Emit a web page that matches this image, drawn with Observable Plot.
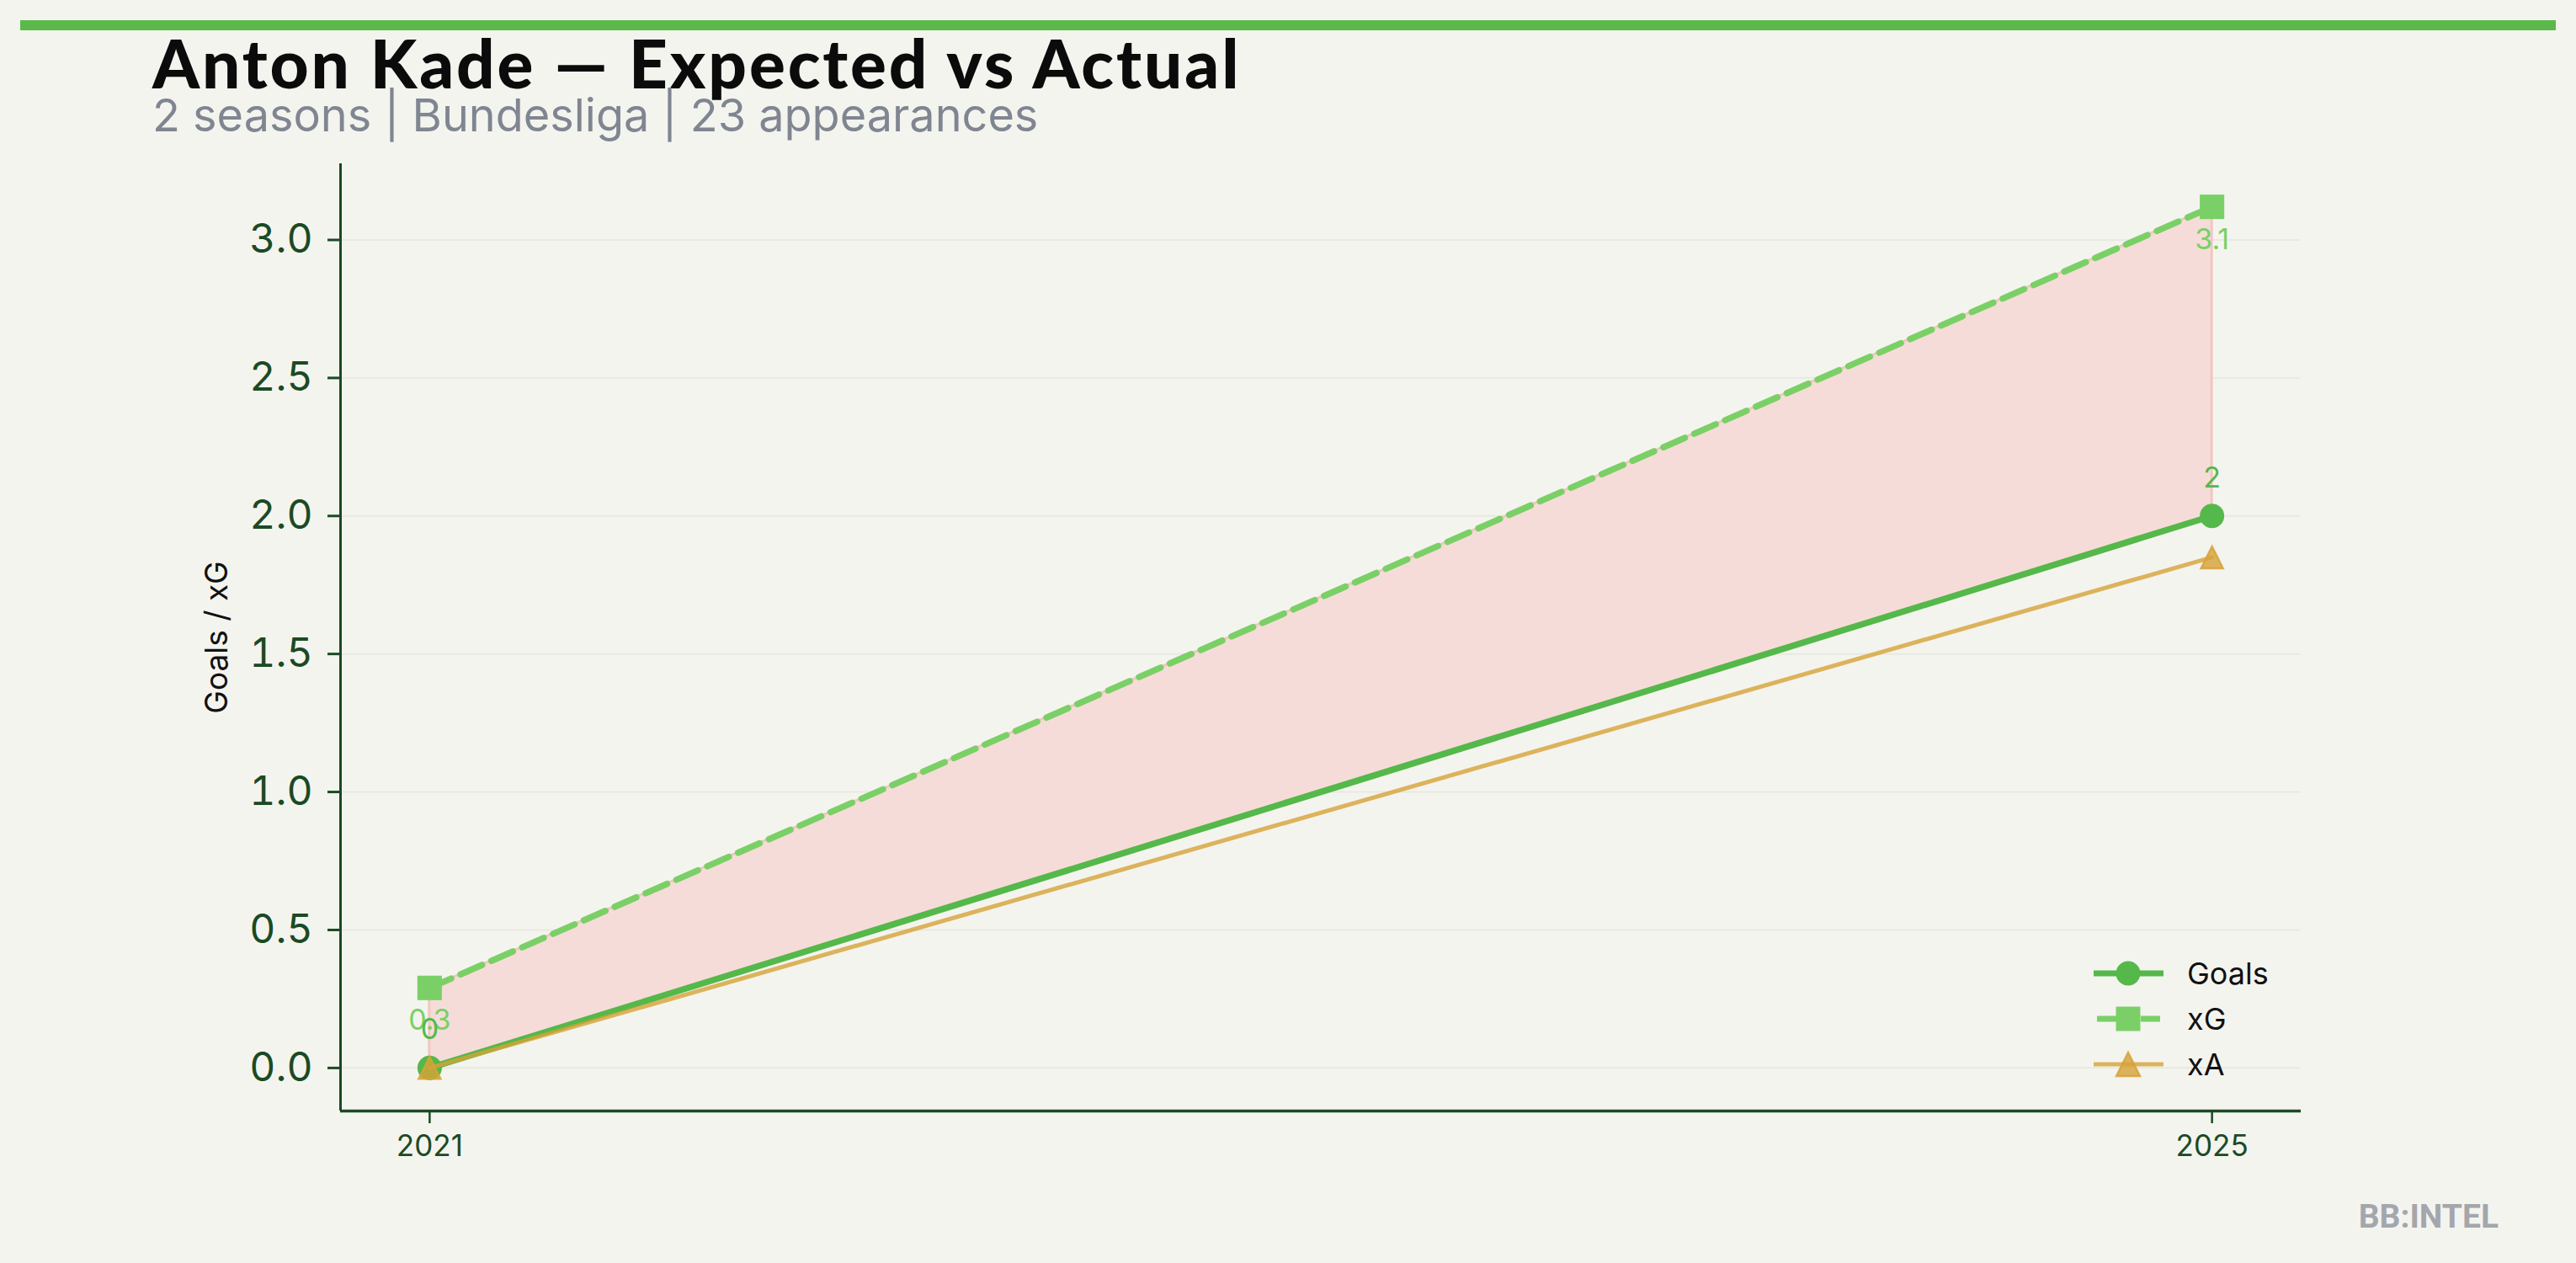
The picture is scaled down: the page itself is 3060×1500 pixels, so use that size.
<!DOCTYPE html>
<html>
<head>
<meta charset="utf-8">
<script src="https://cdn.jsdelivr.net/npm/d3@7"></script>
<script src="https://cdn.jsdelivr.net/npm/@observablehq/plot@0.6"></script>
<style>
  html, body { margin: 0; padding: 0; background: #f4f4ef; }
  #page { position: relative; width: 3060px; height: 1500px; background: #f4f4ef; overflow: hidden; font-family: Inter, "Noto Sans", sans-serif; }
  #topbar { position: absolute; left: 24px; top: 24px; width: 3012px; height: 12px; background: #5ab94a; }
  .base { position: absolute; white-space: nowrap; line-height: 0.9; }
  #title { left: 181px; font-family: Lato, Inter, sans-serif; font-weight: 900; font-size: 80px; letter-spacing: 2.9px; color: #0b0b0b; }
  #subtitle { left: 181px; font-size: 54px; color: #7f8691; font-family: Inter, sans-serif; }
  #chart { position: absolute; left: 0; top: 0; }
  #legend { position: absolute; left: 2487px; top: 1129px; }
  .lrow { display: flex; align-items: center; height: 54px; }
  .lrow span { font-family: Inter, sans-serif; font-size: 36px; color: #111; margin-left: 27px; }
  #mark { position: absolute; right: 92px; font-family: Roboto, sans-serif; font-weight: 700; font-size: 39px; color: #a3a7ad; line-height: 1; }
</style>
</head>
<body>
<div id="page">
  <div id="topbar"></div>
  <div id="chart"></div>
  <div id="title" class="base">Anton Kade — Expected vs Actual</div>
  <div id="subtitle" class="base">2 seasons | Bundesliga | 23 appearances</div>
  <div id="legend"></div>
  <div id="mark">BB:INTEL</div>
</div>
<script>
// ---- data ----
const seasons = [2021, 2025];
const goals = [0, 2];
const xg = [0.29, 3.12];
const xa = [0, 1.85];
const yTicks = [0, 0.5, 1, 1.5, 2, 2.5, 3];
const xTicks = [2021, 2025];
const seriesNames = ["Goals", "xG", "xA"];

const data = seasons.map((s, i) => ({season: s, goals: goals[i], xg: xg[i], xa: xa[i]}));

// colours
const cGoals = "#55b84a", cXg = "#7ad066", cXa = "#d6a337";
const axisColor = "#1b4a24";

// matplotlib-like "^" triangle (width == height)
const tri = {
  draw(ctx, size) {
    const h = Math.sqrt(size / Math.PI);
    ctx.moveTo(0, -h);
    ctx.lineTo(h, h);
    ctx.lineTo(-h, h);
    ctx.closePath();
  }
};

const x0 = 2020.8, x1 = 2025.2, y0 = -0.156, y1 = 3.276;

const chart = Plot.plot({
  width: 3060,
  height: 1500,
  marginLeft: 404,
  marginRight: 327,
  marginTop: 194,
  marginBottom: 181,
  style: {background: "transparent", fontFamily: "Inter, sans-serif", overflow: "visible"},
  x: {domain: [x0, x1], label: null},
  y: {domain: [y0, y1], label: null},
  marks: [
    Plot.ruleY(yTicks, {stroke: "#e9e9e2", strokeWidth: 2}),
    Plot.areaY(data, {x: "season", y1: "goals", y2: "xg", fill: "#f6dcd8", stroke: "#f1c7c1", strokeWidth: 3}),
    Plot.line(data, {x: "season", y: "goals", stroke: cGoals, strokeWidth: 7.5}),
    Plot.dot(data, {x: "season", y: "goals", r: 14.5, fill: cGoals, symbol: "circle"}),
    Plot.line(data, {x: "season", y: "xg", stroke: cXg, strokeWidth: 7.5, strokeDasharray: "28,12"}),
    Plot.dot(data, {x: "season", y: "xg", r: 16.4, fill: cXg, symbol: "square"}),
    Plot.line(data, {x: "season", y: "xa", stroke: cXa, strokeOpacity: 0.8, strokeWidth: 5}),
    Plot.dot(data, {x: "season", y: "xa", r: 13, symbol: tri, fill: cXa, fillOpacity: 0.8, stroke: cXa, strokeOpacity: 0.85, strokeWidth: 2.5}),
    Plot.text(data, {x: "season", y: "xg", text: d => d3.format(".1f")(d.xg), fill: cXg, fontSize: 34, lineAnchor: "bottom", dy: 50}),
    Plot.text(data, {x: "season", y: "goals", text: d => String(d.goals), fill: cGoals, fontSize: 34, lineAnchor: "bottom", dy: -34}),
    // spines
    Plot.ruleX([x0], {stroke: axisColor, strokeWidth: 3}),
    Plot.ruleY([y0], {stroke: axisColor, strokeWidth: 3.5}),
    Plot.axisY({ticks: yTicks, tickFormat: d3.format(".1f"), tickSize: 15, tickPadding: 18, fontSize: 48, stroke: axisColor, fill: axisColor, strokeWidth: 3, label: null}),
    Plot.axisX({ticks: xTicks, tickFormat: d => String(d), tickSize: 15, tickPadding: 14, fontSize: 35, fontVariant: "normal", stroke: axisColor, fill: axisColor, strokeWidth: 2.5, label: null}),
    Plot.text(["Goals / xG"], {frameAnchor: "left", textAnchor: "middle", dx: -146, rotate: -90, fontSize: 37, fill: "#111"})
  ]
});
document.getElementById("chart").appendChild(chart);

// ---- legend ----
const legend = document.getElementById("legend");
const keys = [
  {name: seriesNames[0], color: cGoals, width: 7, sym: "circle"},
  {name: seriesNames[1], color: cXg, width: 7, sym: "square"},
  {name: seriesNames[2], color: cXa, width: 5, sym: "triangle", op: 0.8}
];
for (const k of keys) {
  const row = document.createElement("div");
  row.className = "lrow";
  const ns = "http://www.w3.org/2000/svg";
  const svg = document.createElementNS(ns, "svg");
  svg.setAttribute("width", 84); svg.setAttribute("height", 40);
  svg.style.overflow = "visible";
  const op = k.op || 1;
  if (k.sym === "square") {
    for (const [a, b] of [[4, 27], [56, 79]]) {
      const l = document.createElementNS(ns, "line");
      l.setAttribute("x1", a); l.setAttribute("x2", b); l.setAttribute("y1", 20); l.setAttribute("y2", 20);
      l.setAttribute("stroke", k.color); l.setAttribute("stroke-width", k.width);
      svg.appendChild(l);
    }
    const r = document.createElementNS(ns, "rect");
    r.setAttribute("x", 41 - 14.5); r.setAttribute("y", 20 - 14.5); r.setAttribute("width", 29); r.setAttribute("height", 29);
    r.setAttribute("fill", k.color);
    svg.appendChild(r);
  } else {
    const l = document.createElementNS(ns, "line");
    l.setAttribute("x1", 0); l.setAttribute("x2", 83); l.setAttribute("y1", 20); l.setAttribute("y2", 20);
    l.setAttribute("stroke", k.color); l.setAttribute("stroke-width", k.width); l.setAttribute("stroke-opacity", op);
    svg.appendChild(l);
    if (k.sym === "circle") {
      const c = document.createElementNS(ns, "circle");
      c.setAttribute("cx", 41); c.setAttribute("cy", 20); c.setAttribute("r", 14.5); c.setAttribute("fill", k.color);
      svg.appendChild(c);
    } else {
      const p = document.createElementNS(ns, "path");
      p.setAttribute("d", "M41,6L55,34L27,34Z");
      p.setAttribute("fill", k.color); p.setAttribute("fill-opacity", 0.8);
      p.setAttribute("stroke", k.color); p.setAttribute("stroke-opacity", 0.85); p.setAttribute("stroke-width", 2.5);
      svg.appendChild(p);
    }
  }
  row.appendChild(svg);
  const t = document.createElement("span");
  t.textContent = k.name;
  row.appendChild(t);
  legend.appendChild(row);
}
// place texts by baseline (line-height 0.9)
document.getElementById("title").style.top = (105 - 80 * 0.837) + "px";
document.getElementById("subtitle").style.top = (157 - 54 * 0.814) + "px";
document.getElementById("mark").style.top = (1462 - 39 * 0.93) + "px";
</script>
</body>
</html>
